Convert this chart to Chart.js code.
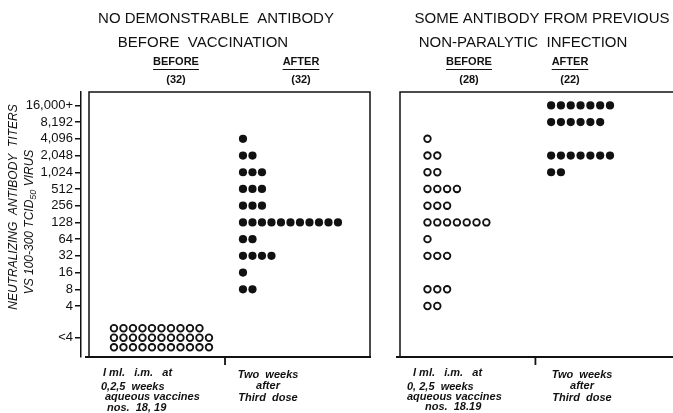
<!DOCTYPE html>
<html>
<head>
<meta charset="utf-8">
<script src="https://cdn.jsdelivr.net/npm/chart.js@4.4.1/dist/chart.umd.min.js"></script>
<style>
  html, body { margin: 0; padding: 0; background: #fff; }
  #wrap { position: relative; width: 673px; height: 413px; overflow: hidden; background: #fff; }
  canvas { position: absolute; top: 0; }
  #c1 { left: 0; }
  #c2 { left: 380px; }
</style>
</head>
<body>
<div id="wrap">
  <canvas id="c1" width="380" height="413"></canvas>
  <canvas id="c2" width="293" height="413"></canvas>
</div>
<script>
// Titer levels, top to bottom, as printed on the axis
const titerLabels = ['16,000+', '8,192', '4,096', '2,048', '1,024', '512', '256', '128', '64', '32', '16', '8', '4', '<4'];
// Position of each level on a log2 scale; "<4" sits a little under 4
const titerLog2 = [14, 13, 12, 11, 10, 9, 8, 7, 6, 5, 4, 3, 2, 0.1];

// Number of subjects at each titer level (same order as titerLabels)
const noAbBefore   = [0, 0, 0, 0, 0, 0, 0, 0, 0, 0, 0, 0, 0, 32];
const noAbAfter    = [0, 0, 1, 2, 3, 3, 3, 11, 2, 4, 1, 2, 0, 0];
const someAbBefore = [0, 0, 1, 2, 2, 4, 3, 7, 1, 3, 0, 3, 2, 0];
const someAbAfter  = [7, 6, 0, 7, 2, 0, 0, 0, 0, 0, 0, 0, 0, 0];

const Y_MIN = -1.05, Y_MAX = 14.8;
const PER_ROW = 11;      // dots per row before a level wraps into extra rows
const ROW_STEP = 0.57;   // vertical step between wrapped rows, in log2 units

const total = arr => arr.reduce((s, v) => s + v, 0);

// One dot per subject: each level is a row of dots starting at startCol,
// wrapped into stacked rows (top row shortest) when it is too long.
function layoutDots(counts, startCol) {
  const pts = [];
  counts.forEach((n, i) => {
    if (!n) return;
    const rows = Math.ceil(n / PER_ROW);
    for (let r = 0; r < rows; r++) {
      const cnt = r === 0 ? n - PER_ROW * (rows - 1) : PER_ROW;
      const y = titerLog2[i] + ((rows - 1) / 2 - r) * ROW_STEP;
      for (let k = 0; k < cnt; k++) pts.push({ x: startCol + k, y });
    }
  });
  return pts;
}

const FONT = '"Liberation Sans", Arial, sans-serif';

function openSet(data) {
  return { data, pointStyle: 'circle', pointRadius: 3.3, pointHoverRadius: 3.3,
           backgroundColor: '#fff', borderColor: '#111', borderWidth: 1.8, showLine: false };
}
function filledSet(data) {
  return { data, pointStyle: 'circle', pointRadius: 4.1, pointHoverRadius: 4.1,
           backgroundColor: '#111', borderColor: '#111', borderWidth: 0, showLine: false };
}

// Frame, column headings, titles and footnotes of one panel (page coordinates)
function panelDecor(spec) {
  return {
    id: 'panelDecor',
    afterDraw(chart) {
      const ctx = chart.ctx;
      const ox = spec.offsetX;
      const xs = chart.scales.x;
      ctx.save();
      ctx.strokeStyle = '#111';
      ctx.fillStyle = '#111';

      // frame
      const f = spec.frame;
      ctx.lineWidth = 1.5;
      ctx.beginPath();
      ctx.moveTo(f.left - ox, f.bottom);
      ctx.lineTo(f.left - ox, f.top);
      ctx.lineTo(f.right - ox, f.top);
      if (f.closedRight) ctx.lineTo(f.right - ox, f.bottom);
      ctx.stroke();
      ctx.lineWidth = 2;
      ctx.beginPath();
      ctx.moveTo(f.left - ox - 4, f.bottom);
      ctx.lineTo(f.right - ox + 1, f.bottom);
      ctx.stroke();

      // small mark between the two columns
      const dx = xs.getPixelForValue(spec.divider);
      ctx.lineWidth = 1.8;
      ctx.beginPath();
      ctx.moveTo(dx, f.bottom);
      ctx.lineTo(dx, f.bottom + 8);
      ctx.stroke();

      // panel title
      ctx.textAlign = 'center';
      ctx.textBaseline = 'middle';
      ctx.font = '15px ' + FONT;
      spec.titles.forEach(t => ctx.fillText(t.text, t.x - ox, t.y));

      // column headings with group size
      spec.headers.forEach(h => {
        ctx.font = 'bold 11px ' + FONT;
        ctx.fillText(h.name, h.x - ox, 62);
        const w = ctx.measureText(h.name).width;
        ctx.lineWidth = 1.2;
        ctx.beginPath();
        ctx.moveTo(h.x - ox - w / 2, 69.5);
        ctx.lineTo(h.x - ox + w / 2, 69.5);
        ctx.stroke();
        ctx.fillText('(' + h.n + ')', h.x - ox, 80);
      });

      // footnotes under the columns
      ctx.font = 'italic bold 11px ' + FONT;
      spec.notes.forEach(n => {
        ctx.textAlign = n.align;
        ctx.fillText(n.text, n.x - ox, n.y);
      });
      ctx.restore();
    }
  };
}

// Vertical axis title of the left panel
const axisTitle = {
  id: 'axisTitle',
  afterDraw(chart) {
    const ctx = chart.ctx;
    ctx.save();
    ctx.fillStyle = '#111';
    ctx.textBaseline = 'middle';
    ctx.textAlign = 'center';
    ctx.font = 'italic 12px ' + FONT;
    ctx.translate(14, 207);
    ctx.rotate(-Math.PI / 2);
    ctx.fillText('NEUTRALIZING  ANTIBODY  TITERS', 0, 0);
    ctx.restore();

    ctx.save();
    ctx.fillStyle = '#111';
    ctx.textBaseline = 'middle';
    ctx.translate(30, 222);
    ctx.rotate(-Math.PI / 2);
    const big = 'italic 12px ' + FONT, small = 'italic 9px ' + FONT;
    const parts = [['VS 100-300 TCID', big, 0], ['50', small, 3], [' VIRUS', big, 0]];
    let width = 0;
    parts.forEach(p => { ctx.font = p[1]; width += ctx.measureText(p[0]).width; });
    let x = -width / 2;
    ctx.textAlign = 'left';
    parts.forEach(p => { ctx.font = p[1]; ctx.fillText(p[0], x, p[2]); x += ctx.measureText(p[0]).width; });
    ctx.restore();
  }
};

function makeOptions(cfg) {
  return {
    responsive: false,
    animation: false,
    events: [],
    layout: { padding: cfg.padding },
    plugins: { legend: { display: false }, tooltip: { enabled: false } },
    scales: {
      x: { type: 'linear', min: 0, max: cfg.xMax, display: false },
      y: {
        type: 'linear', min: Y_MIN, max: Y_MAX, display: cfg.showY,
        afterBuildTicks: s => { s.ticks = titerLog2.map(v => ({ value: v })); },
        afterFit: s => { if (cfg.showY) s.width = cfg.axisWidth; },
        ticks: {
          autoSkip: false, padding: 2, color: '#111',
          font: { family: FONT, size: 13 },
          callback: (v, i) => titerLabels[i]
        },
        grid: { drawOnChartArea: false, drawTicks: true, tickLength: 6, color: '#111', lineWidth: 1.5 },
        border: { display: true, color: '#111', width: 1.5 }
      }
    }
  };
}

// Left panel: no antibody before vaccination
const leftCols = { before: 3.47, after: 17.05 };
new Chart(document.getElementById('c1'), {
  type: 'scatter',
  data: { datasets: [
    openSet(layoutDots(noAbBefore, leftCols.before)),
    filledSet(layoutDots(noAbAfter, leftCols.after))
  ] },
  options: makeOptions({ padding: { left: 0, top: 92, right: 10, bottom: 56 }, xMax: 30.42, showY: true, axisWidth: 81 }),
  plugins: [axisTitle, panelDecor({
    offsetX: 0,
    frame: { left: 89, right: 370, top: 92, bottom: 357, closedRight: true },
    divider: 15.16,
    titles: [
      { text: 'NO DEMONSTRABLE  ANTIBODY', x: 216, y: 19 },
      { text: 'BEFORE  VACCINATION', x: 203, y: 43 }
    ],
    headers: [
      { name: 'BEFORE', n: total(noAbBefore), x: 176 },
      { name: 'AFTER', n: total(noAbAfter), x: 301 }
    ],
    notes: [
      { text: 'I ml.   i.m.   at', x: 103, y: 373, align: 'left' },
      { text: '0,2,5  weeks', x: 101, y: 387, align: 'left' },
      { text: 'aqueous vaccines', x: 105, y: 397, align: 'left' },
      { text: 'nos.  18, 19', x: 107, y: 408, align: 'left' },
      { text: 'Two  weeks', x: 268, y: 375, align: 'center' },
      { text: 'after', x: 268, y: 386, align: 'center' },
      { text: 'Third  dose', x: 268, y: 398, align: 'center' }
    ]
  })]
});

// Right panel: some antibody from previous non-paralytic infection
const rightCols = { before: 2.8, after: 15.4 };
new Chart(document.getElementById('c2'), {
  type: 'scatter',
  data: { datasets: [
    openSet(layoutDots(someAbBefore, rightCols.before)),
    filledSet(layoutDots(someAbAfter, rightCols.after))
  ] },
  options: makeOptions({ padding: { left: 20, top: 92, right: 0, bottom: 56 }, xMax: 27.3, showY: false }),
  plugins: [panelDecor({
    offsetX: 380,
    frame: { left: 400, right: 675, top: 92, bottom: 357, closedRight: false },
    divider: 13.8,
    titles: [
      { text: 'SOME ANTIBODY FROM PREVIOUS', x: 542, y: 19 },
      { text: 'NON-PARALYTIC  INFECTION', x: 523, y: 43 }
    ],
    headers: [
      { name: 'BEFORE', n: total(someAbBefore), x: 469 },
      { name: 'AFTER', n: total(someAbAfter), x: 570 }
    ],
    notes: [
      { text: 'I ml.   i.m.   at', x: 413, y: 373, align: 'left' },
      { text: '0, 2,5  weeks', x: 407, y: 387, align: 'left' },
      { text: 'aqueous vaccines', x: 407, y: 397, align: 'left' },
      { text: 'nos.  18.19', x: 425, y: 407, align: 'left' },
      { text: 'Two  weeks', x: 582, y: 375, align: 'center' },
      { text: 'after', x: 582, y: 386, align: 'center' },
      { text: 'Third  dose', x: 582, y: 398, align: 'center' }
    ]
  })]
});
</script>
</body>
</html>
